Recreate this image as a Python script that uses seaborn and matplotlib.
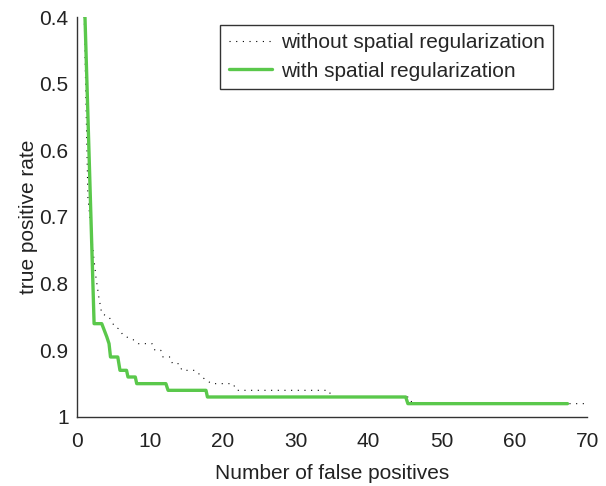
import matplotlib
matplotlib.use("Agg")
import matplotlib.pyplot as plt
import seaborn as sns
import pandas as pd

# ROC-style curves: true positive rate against number of false positives
fp_without = [1.0, 1.5, 2.3, 2.6, 3.0, 3.4, 4.4, 5.2, 5.8, 6.3, 7.2, 7.7, 8.4,
              10.3, 10.7, 11.5, 11.8, 12.8, 13.1, 14.0, 14.4, 16.2, 16.9, 17.6,
              18.5, 21.4, 21.9, 34.5, 35.0, 45.6, 46.0, 70.0]
tpr_without = [0.40, 0.67, 0.76, 0.79, 0.82, 0.845, 0.85, 0.865, 0.868, 0.877,
               0.882, 0.884, 0.89, 0.89, 0.90, 0.90, 0.91, 0.91, 0.92, 0.92,
               0.93, 0.93, 0.937, 0.944, 0.95, 0.95, 0.96, 0.96, 0.97, 0.97,
               0.98, 0.98]

fp_with = [1.1, 2.35, 3.4, 4.1, 4.4, 4.6, 5.6, 5.9, 6.8, 7.0, 8.0, 8.2, 12.2,
           12.5, 17.7, 17.9, 45.1, 45.4, 67.3]
tpr_with = [0.40, 0.86, 0.86, 0.88, 0.89, 0.91, 0.91, 0.93, 0.93, 0.94, 0.94,
            0.95, 0.95, 0.96, 0.96, 0.97, 0.97, 0.98, 0.98]

series_labels = ["without spatial regularization", "with spatial regularization"]
x_ticks = [0, 10, 20, 30, 40, 50, 60, 70]
y_ticks = [0.4, 0.5, 0.6, 0.7, 0.8, 0.9, 1.0]
y_tick_labels = ["0.4", "0.5", "0.6", "0.7", "0.8", "0.9", "1"]

sns.set_style("white")
plt.rcParams["font.family"] = ["Liberation Sans", "DejaVu Sans"]
plt.rcParams["font.size"] = 15

df_without = pd.DataFrame({"fp": fp_without, "tpr": tpr_without})
df_with = pd.DataFrame({"fp": fp_with, "tpr": tpr_with})

fig = plt.figure(figsize=(6.06, 4.86), dpi=100)
ax = fig.add_axes([0.127, 0.142, 0.842, 0.823])

sns.lineplot(data=df_without, x="fp", y="tpr", sort=False, estimator=None,
             color="black", linewidth=0.8, linestyle=(0, (1, 5)),
             label=series_labels[0], ax=ax)
sns.lineplot(data=df_with, x="fp", y="tpr", sort=False, estimator=None,
             color="#5ac84b", linewidth=2.4, label=series_labels[1], ax=ax)

ax.set_xlim(0, 70)
ax.set_ylim(1.0, 0.4)
ax.set_xticks(x_ticks)
ax.set_yticks(y_ticks)
ax.set_yticklabels(y_tick_labels)
ax.set_xlabel("Number of false positives", fontsize=15, color="#222222", labelpad=9)
ax.set_ylabel("true positive rate", fontsize=15, color="#222222", labelpad=1)

for side in ["top", "right"]:
    ax.spines[side].set_visible(False)
for side in ["left", "bottom"]:
    ax.spines[side].set_color("#333333")
    ax.spines[side].set_linewidth(1.0)
ax.tick_params(direction="in", length=4, width=0.9, color="#333333",
               labelcolor="#222222", labelsize=15, pad=6)
ax.tick_params(axis="x", pad=11)

leg = ax.legend(loc="upper right", bbox_to_anchor=(0.933, 0.98),
                borderaxespad=0, fancybox=False, frameon=True,
                fontsize=15, handlelength=2.1, handletextpad=0.4,
                borderpad=0.4, labelspacing=0.45)
leg.get_frame().set_edgecolor("black")
leg.get_frame().set_linewidth(1.0)

fig.savefig("out.png", dpi=100)
